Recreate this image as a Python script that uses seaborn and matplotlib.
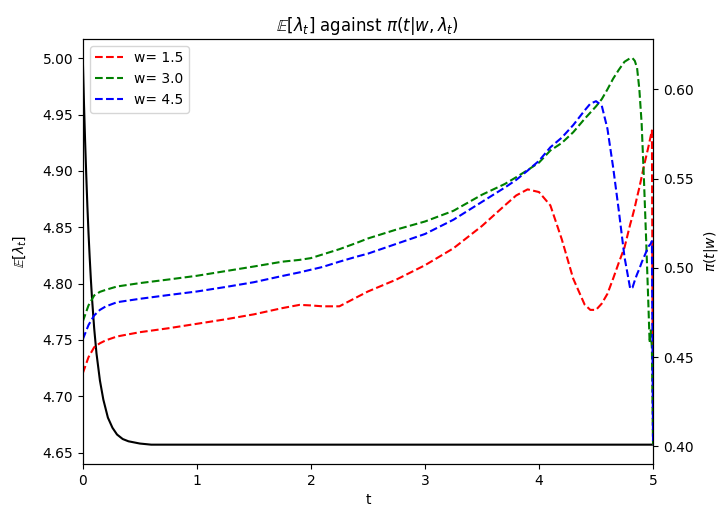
import numpy as np
import matplotlib
matplotlib.use("Agg")
import matplotlib.pyplot as plt
import seaborn as sns

# expected intensity E[lambda_t] (left axis)
t_lam = [0, 0.01, 0.02, 0.03, 0.04, 0.05, 0.06, 0.07, 0.08, 0.10, 0.12, 0.15, 0.18,
         0.22, 0.26, 0.30, 0.35, 0.40, 0.50, 0.60, 0.80, 1.0, 2.0, 3.0, 4.0, 5.0]
lam = [5.000, 4.961, 4.927, 4.897, 4.869, 4.845, 4.824, 4.805, 4.788, 4.760, 4.738,
       4.714, 4.697, 4.681, 4.672, 4.666, 4.662, 4.660, 4.658, 4.657, 4.657, 4.657,
       4.657, 4.657, 4.657, 4.657]

# pi(t|w) for each w (right axis)
t_pi = [0, 0.05, 0.1, 0.15, 0.2, 0.3, 0.5, 0.75, 1.0, 1.25, 1.5, 1.75, 1.9, 2.0, 2.1,
        2.25, 2.4, 2.5, 2.75, 3.0, 3.25, 3.5, 3.7, 3.8, 3.9, 4.0, 4.1, 4.2, 4.3, 4.4,
        4.45, 4.5, 4.55, 4.6, 4.65, 4.7, 4.75, 4.8, 4.82, 4.84, 4.86, 4.88, 4.9, 4.92,
        4.94, 4.96, 4.97, 4.98, 4.99, 5.0]
pi_15 = [0.441, 0.450, 0.4556, 0.4578, 0.4594, 0.4616, 0.464, 0.4662, 0.4687, 0.4712,
         0.474, 0.4775, 0.4793, 0.4790, 0.4785, 0.4785, 0.4835, 0.4868, 0.4935, 0.5015,
         0.511, 0.5235, 0.535, 0.5406, 0.5440, 0.5425, 0.5350, 0.516, 0.494, 0.4795,
         0.4765, 0.4765, 0.480, 0.4855, 0.494, 0.503, 0.5115, 0.5245, 0.529, 0.534,
         0.5397, 0.545, 0.551, 0.557, 0.5625, 0.568, 0.571, 0.574, 0.577, 0.401]
pi_30 = [0.470, 0.479, 0.4846, 0.4866, 0.4877, 0.4896, 0.4915, 0.4935, 0.4956, 0.4982,
         0.5008, 0.5035, 0.5045, 0.5055, 0.5075, 0.5105, 0.514, 0.5165, 0.5215, 0.526,
         0.532, 0.541, 0.547, 0.5508, 0.5548, 0.559, 0.5658, 0.570, 0.576, 0.5835,
         0.587, 0.5905, 0.5945, 0.600, 0.606, 0.611, 0.6155, 0.6175, 0.6175, 0.616,
         0.612, 0.600, 0.581, 0.550, 0.515, 0.478, 0.458, 0.465, 0.455, 0.401]
pi_45 = [0.460, 0.468, 0.4734, 0.4765, 0.4784, 0.4808, 0.4827, 0.4848, 0.4868, 0.4893,
         0.492, 0.4955, 0.4975, 0.4990, 0.5005, 0.5035, 0.5063, 0.508, 0.5135, 0.519,
         0.527, 0.537, 0.545, 0.5493, 0.5545, 0.560, 0.5676, 0.573, 0.580, 0.5882,
         0.592, 0.5934, 0.591, 0.578, 0.5564, 0.532, 0.506, 0.4883, 0.489, 0.493,
         0.4965, 0.4995, 0.503, 0.506, 0.509, 0.512, 0.5128, 0.5135, 0.515, 0.401]

w_values = [1.5, 3.0, 4.5]
colors = ['red', 'green', 'blue']

fig, ax = plt.subplots(figsize=(7.2, 5.11), dpi=100)
fig.subplots_adjust(left=0.115, right=0.907, bottom=0.092, top=0.924)

sns.lineplot(x=t_lam, y=lam, color='black', ax=ax)
ax.set_xlim(0, 5)
ax.set_xlabel('t')
ax.set_ylabel(r'$\mathbb{E}[\lambda_t]$', labelpad=10)
ax.set_title(r'$\mathbb{E}[\lambda_t]$ against $\pi(t|w,\lambda_t)$')

ax2 = ax.twinx()
for w, pi, c in zip(w_values, [pi_15, pi_30, pi_45], colors):
    sns.lineplot(x=t_pi, y=pi, color=c, linestyle='--', label=f'w= {w}', ax=ax2)
ax2.set_ylabel(r'$\pi(t|w)$', labelpad=6)
ax2.legend(loc='upper left')

plt.savefig('out.png')
